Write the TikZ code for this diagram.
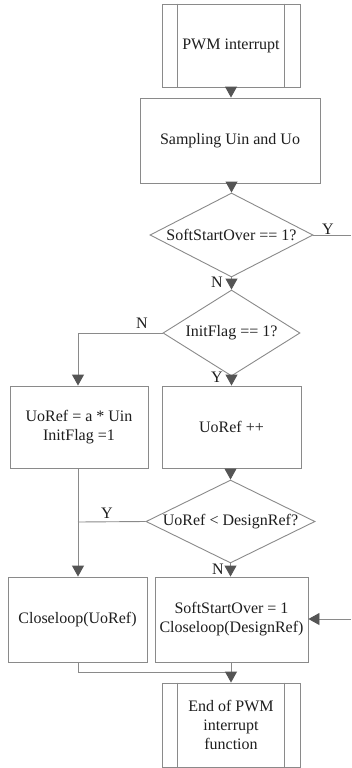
\documentclass[tikz,border=0pt]{standalone}
\usepackage{fontspec}
\setmainfont{Liberation Serif}
\usetikzlibrary{arrows.meta,shapes.geometric,calc}
\definecolor{linegray}{HTML}{8A8A8A}
\definecolor{tipgray}{HTML}{555555}
\definecolor{txt}{HTML}{1E1E1E}
\tikzset{
  box/.style={draw=linegray, line width=0.9pt, minimum width=#1, inner sep=0pt, align=center,
    text=txt, font=\fontsize{16}{19}\selectfont},
  dia/.style={draw=linegray, line width=0.9pt, diamond, inner sep=0pt, aspect=1},
  dtext/.style={text=txt, font=\fontsize{16}{19}\selectfont, inner sep=0pt},
  lab/.style={text=txt, font=\fontsize{16}{19}\selectfont, inner sep=0pt},
  conn/.style={draw=linegray, line width=0.9pt},
  arr/.style={conn, -{Triangle[width=12pt,length=11pt,color=tipgray]}},
  sidebars/.style={draw=linegray, line width=0.9pt}
}
\begin{document}
\begin{tikzpicture}[x=1pt,y=-1pt]
\fill[white] (0,0) rectangle (351,768);
\useasboundingbox (0,0) rectangle (351,768);

% nodes
\node[box=138pt, minimum height=83pt] (start) at (231,45.5) {PWM interrupt};
\node[box=180pt, minimum height=85pt] (samp) at (230,140.5) {Sampling Uin and Uo};
\node[dia, minimum width=163pt, minimum height=84pt] (d1) at (231.5,235) {};
\node[dtext] (d1t) at (d1) {SoftStartOver == 1?};
\node[dia, minimum width=137pt, minimum height=86pt] (d2) at (231.5,333) {};
\node[dtext] (d2t) at (d2) {InitFlag == 1?};
\node[box=138pt, minimum height=82pt] (ua) at (79,427) {UoRef = a * Uin\\InitFlag =1};
\node[box=139pt, minimum height=82pt] (upp) at (231.5,427) {UoRef ++};
\node[dia, minimum width=169pt, minimum height=83pt] (d3) at (230.5,521.5) {};
\node[dtext] (d3t) at (d3) {UoRef < DesignRef?};
\node[box=139pt, minimum height=85pt] (cl) at (77.5,619.5) {Closeloop(UoRef)};
\node[box=153pt, minimum height=85pt] (ssb) at (231.5,619.5) {SoftStartOver = 1\\Closeloop(DesignRef)};
\node[box=138pt, minimum height=84pt] (endb) at (231,725) {End of PWM\\interrupt\\function};

% side bars of start / end boxes
\draw[sidebars] ($(start.north west)+(16,0)$) -- ($(start.south west)+(16,0)$);
\draw[sidebars] ($(start.north east)+(-16,0)$) -- ($(start.south east)+(-16,0)$);
\draw[sidebars] ($(endb.north west)+(16,0)$) -- ($(endb.south west)+(16,0)$);
\draw[sidebars] ($(endb.north east)+(-16,0)$) -- ($(endb.south east)+(-16,0)$);

% coordinates
\coordinate (yout) at (351,235);
\coordinate (yin) at (351,619);
\coordinate (nleft) at (78,333);
\coordinate (yjoin) at (78,522);
\coordinate (bjoin) at (78,672);
\coordinate (bjoin2) at (231,672);

% connectors
\draw[arr] (start.south) -- (samp.north -| start.south);
\draw[arr] (samp.south -| d1.north) -- (d1.north);
\draw[arr] (d1.south) -- (d2.north);
\draw[conn] (d1.east) -- (yout);
\draw[arr] (d2.west) -- (nleft) -- (ua.north -| nleft);
\draw[arr] (d2.south) -- (upp.north -| d2.south);
\draw[arr] (upp.south -| d3.north) -- (d3.north);
\draw[arr] (ua.south -| nleft) -- (cl.north -| nleft);
\draw[conn] (d3.west) -- (yjoin);
\draw[arr] (d3.south) -- (ssb.north -| d3.south);
\draw[arr] (yin) -- (ssb.east |- yin);
\draw[conn] (cl.south -| nleft) -- (bjoin) -- (bjoin2);
\draw[arr] (ssb.south -| endb.north) -- (endb.north);

% labels
\node[lab] (ly1) at (328,229) {Y};
\node[lab] (ln1) at (217,282) {N};
\node[lab] (ln2) at (142,323) {N};
\node[lab] (ly2) at (217,377) {Y};
\node[lab] (ly3) at (107,513) {Y};
\node[lab] (ln3) at (218,569) {N};
\end{tikzpicture}
\end{document}
